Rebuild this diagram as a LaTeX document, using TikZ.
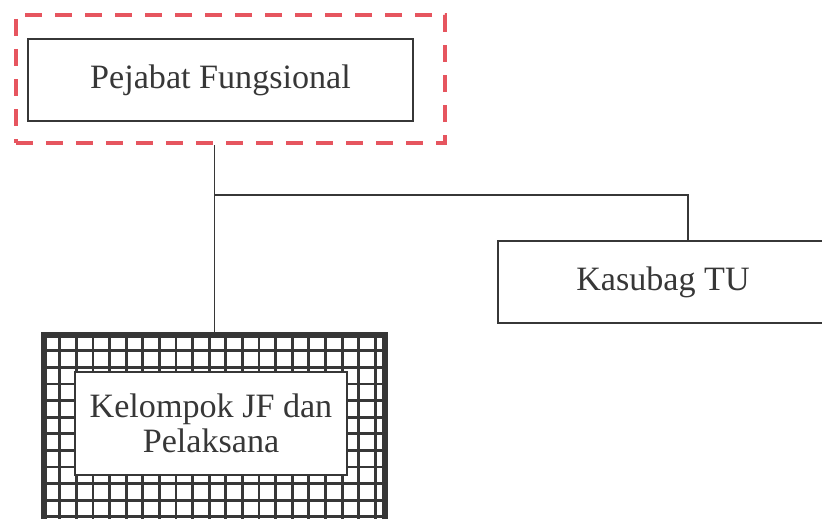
\documentclass[tikz,border=0pt]{standalone}
\usepackage{fontspec}
\setmainfont{Liberation Serif}
\usepackage{xcolor}
\usepackage{tikz}
\usetikzlibrary{positioning}

\definecolor{framered}{RGB}{230,85,95}
\definecolor{inkgray}{RGB}{55,55,55}

\begin{document}
\begin{tikzpicture}[
  x=0.01cm, y=-0.01cm,
  font=\fontsize{9.7}{9.9}\selectfont, text=inkgray,
  unitbox/.style={draw=inkgray, line width=0.7pt, fill=white, align=center,
                  minimum height=0.82cm},
  dashframe/.style={draw=framered, line width=1.2pt,
                    dash pattern=on 0.17cm off 0.13cm, minimum width=4.29cm, minimum height=1.28cm},
  gridbox/.style={draw=inkgray, line width=1pt, minimum width=3.39cm, minimum height=2.3cm},
  gridline/.style={draw=inkgray, line width=0.8pt},
  link/.style={draw=inkgray, line width=0.5pt},
]

%% ── Frame of the picture ─────────────────────────────────────────────────
\useasboundingbox (0,0) rectangle (822,518);
\clip (0,0) rectangle (822,518);

%% ── Top unit (dashed red frame) ──────────────────────────────────────────
\node[dashframe] (pejabatframe) at (230.5,79) {};
\node[unitbox, minimum width=3.85cm] (pejabat) at (220.5,80) {Pejabat Fungsional};

%% ── Right unit ────────────────────────────────────────────────────────────
\node[unitbox, minimum width=3.3cm] (kasubag) at (663,282) {Kasubag TU};

%% ── Lower unit (grid frame) ──────────────────────────────────────────────
\node[gridbox] (kelompokgrid) at (214.5,451) {};
\begin{scope}
  \clip (kelompokgrid.north west) rectangle (kelompokgrid.south east);
  \draw[gridline, shift={(kelompokgrid.north west)}, step=0.166cm]
    (0,0) grid (4cm,-3cm);
\end{scope}
\draw[gridline, line width=1pt] (kelompokgrid.north west) rectangle (kelompokgrid.south east);
\node[unitbox, minimum width=2.72cm, minimum height=1.03cm] (kelompok) at (211,423.5)
  {Kelompok JF dan\\Pelaksana};

%% ── Connectors ────────────────────────────────────────────────────────────
\coordinate (branch) at (214.5,195);
\draw[link] (kelompokgrid.north |- pejabatframe.south) -- (kelompokgrid.north);
\draw[link] (branch) -| ([xshift=0.25cm]kasubag.north);

\end{tikzpicture}
\end{document}
